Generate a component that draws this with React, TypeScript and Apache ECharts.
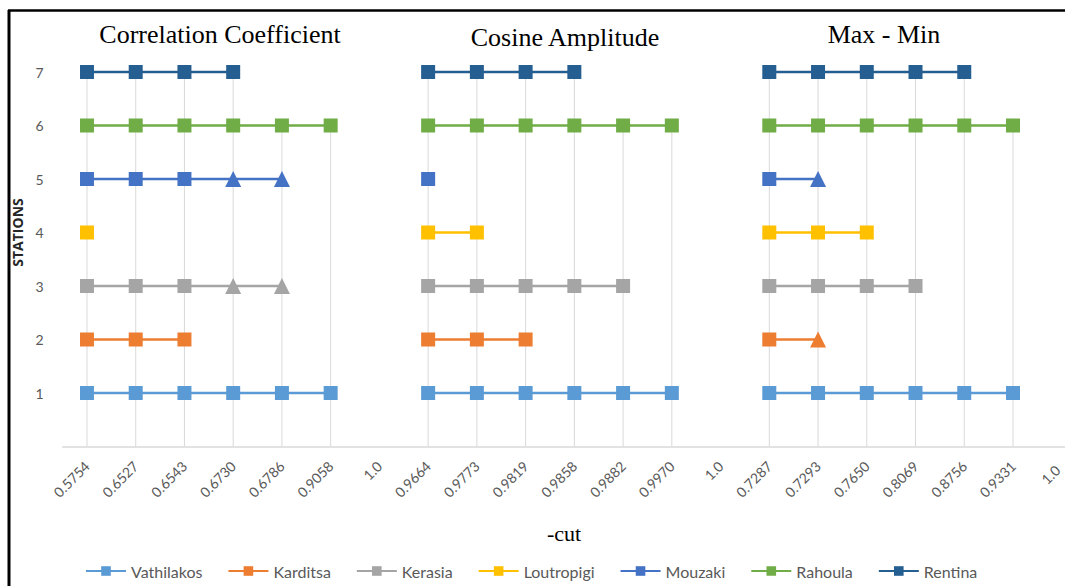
import { useEffect, useRef } from 'react';
import * as echarts from 'echarts';

const categories = [
  '0.5754', '0.6527', '0.6543', '0.6730', '0.6786', '0.9058', '1.0',
  '0.9664', '0.9773', '0.9819', '0.9858', '0.9882', '0.9970', '1.0',
  '0.7287', '0.7293', '0.7650', '0.8069', '0.8756', '0.9331', '1.0',
];

const panelTitles = ['Correlation Coefficient', 'Cosine Amplitude', 'Max - Min'];
const xAxisTitle = '-cut';
const yAxisTitle = 'STATIONS';
const yTickLabels = ['1', '2', '3', '4', '5', '6', '7'];

const _ = null;
const vathilakos = [1, 1, 1, 1, 1, 1, _, 1, 1, 1, 1, 1, 1, _, 1, 1, 1, 1, 1, 1, _];
const karditsa = [2, 2, 2, _, _, _, _, 2, 2, 2, _, _, _, _, 2, 2, _, _, _, _, _];
const kerasia = [3, 3, 3, 3, 3, _, _, 3, 3, 3, 3, 3, _, _, 3, 3, 3, 3, _, _, _];
const loutropigi = [4, _, _, _, _, _, _, 4, 4, _, _, _, _, _, 4, 4, 4, _, _, _, _];
const mouzaki = [5, 5, 5, 5, 5, _, _, 5, _, _, _, _, _, _, 5, 5, _, _, _, _, _];
const rahoula = [6, 6, 6, 6, 6, 6, _, 6, 6, 6, 6, 6, 6, _, 6, 6, 6, 6, 6, 6, _];
const rentina = [7, 7, 7, 7, _, _, _, 7, 7, 7, 7, _, _, _, 7, 7, 7, 7, 7, _, _];

// indices of points drawn as triangles
const karditsaTriangles = [15];
const kerasiaTriangles = [3, 4];
const mouzakiTriangles = [3, 4, 15];

const seriesDefs = [
  { name: 'Vathilakos', color: '#5B9BD5', values: vathilakos, triangles: [] as number[] },
  { name: 'Karditsa', color: '#ED7D31', values: karditsa, triangles: karditsaTriangles },
  { name: 'Kerasia', color: '#A5A5A5', values: kerasia, triangles: kerasiaTriangles },
  { name: 'Loutropigi', color: '#FFC000', values: loutropigi, triangles: [] as number[] },
  { name: 'Mouzaki', color: '#4472C4', values: mouzaki, triangles: mouzakiTriangles },
  { name: 'Rahoula', color: '#70AD47', values: rahoula, triangles: [] as number[] },
  { name: 'Rentina', color: '#255E91', values: rentina, triangles: [] as number[] },
];

const sansFont = 'Lato, "Open Sans", sans-serif';
const serifFont = '"Liberation Serif", "DejaVu Serif", serif';

const CHART_W = 1100;

export default function App() {
  const ref = useRef<HTMLDivElement>(null);

  useEffect(() => {
    document.body.style.margin = '0';
    const chart = echarts.init(ref.current!, null, { renderer: 'svg' });

    const dropLines = categories.map((_c, i) => {
      let m: number | null = null;
      seriesDefs.forEach((s) => {
        const v = s.values[i];
        if (v != null && (m == null || v > m)) m = v;
      });
      return m;
    });

    const lineSeries = seriesDefs.map((s) => ({
      name: s.name,
      type: 'line',
      color: s.color,
      symbol: 'rect',
      symbolSize: 14,
      showSymbol: true,
      connectNulls: false,
      z: 3,
      lineStyle: { color: s.color, width: 2.5 },
      itemStyle: { color: s.color },
      data: s.values.map((v, i) =>
        v == null
          ? null
          : s.triangles.includes(i)
          ? { value: v, symbol: 'triangle', symbolSize: 16 }
          : v
      ),
    }));

    const lastIdx = categories.length - 1;

    const option: any = {
      animation: false,
      grid: { left: 62.6, right: CHART_W - 62.6 - 1023.5, top: 18.5, bottom: 139.5, containLabel: false },
      xAxis: {
        type: 'category',
        data: categories,
        boundaryGap: true,
        axisLine: { show: true, lineStyle: { color: '#d9d9d9', width: 1.5 } },
        axisTick: { show: false },
        splitLine: { show: false },
        axisLabel: {
          interval: 0,
          rotate: 45,
          margin: 17,
          color: '#595959',
          fontSize: 14,
          fontFamily: sansFont,
          formatter: (v: string, idx: number) => (idx === lastIdx ? `{e|${v}}` : v),
          rich: {
            e: { padding: [0, 6, 0, 0], color: '#595959', fontSize: 14, fontFamily: sansFont },
          },
        },
      },
      yAxis: {
        type: 'value',
        min: 0,
        max: 8,
        interval: 1,
        name: yAxisTitle,
        nameLocation: 'middle',
        nameGap: 36,
        nameTextStyle: { color: '#262626', fontSize: 14, fontWeight: 'bold', fontFamily: '"Open Sans", sans-serif' },
        axisLine: { show: false },
        axisTick: { show: false },
        splitLine: { show: false },
        axisLabel: {
          margin: 19,
          color: '#595959',
          fontSize: 14,
          fontFamily: sansFont,
          formatter: (v: number) => (yTickLabels.includes(String(v)) ? String(v) : ''),
        },
      },
      legend: {
        data: seriesDefs.map((s) => s.name),
        left: 85,
        top: 563,
        padding: 0,
        itemWidth: 40,
        itemHeight: 12,
        itemGap: 25,
        textStyle: { color: '#595959', fontSize: 16, fontFamily: sansFont },
      },
      graphic: [
        { type: 'text', x: 220, y: 34, style: { text: panelTitles[0], font: `26px ${serifFont}`, fill: '#000', align: 'center', verticalAlign: 'middle' } },
        { type: 'text', x: 565, y: 37, style: { text: panelTitles[1], font: `26px ${serifFont}`, fill: '#000', align: 'center', verticalAlign: 'middle' } },
        { type: 'text', x: 884, y: 34, style: { text: panelTitles[2], font: `26px ${serifFont}`, fill: '#000', align: 'center', verticalAlign: 'middle' } },
        { type: 'text', x: 547, y: 533, style: { text: xAxisTitle, font: `22px ${serifFont}`, fill: '#000', align: 'left', verticalAlign: 'middle' } },
        { type: 'line', shape: { x1: 9, y1: 10, x2: 9, y2: 586 }, style: { stroke: '#000', lineWidth: 3 } },
        { type: 'line', shape: { x1: 8, y1: 10.5, x2: CHART_W, y2: 10.5 }, style: { stroke: '#000', lineWidth: 2.5 } },
      ],
      series: [
        {
          name: 'drop',
          type: 'bar',
          barWidth: 1,
          silent: true,
          z: 1,
          itemStyle: { color: '#d9d9d9' },
          data: dropLines,
        },
        ...lineSeries,
      ],
    };

    chart.setOption(option);
    return () => chart.dispose();
  }, []);

  return (
    <div style={{ width: 1065, height: 586, overflow: 'hidden', position: 'relative' }}>
      <div ref={ref} style={{ width: CHART_W, height: 586 }} />
    </div>
  );
}
